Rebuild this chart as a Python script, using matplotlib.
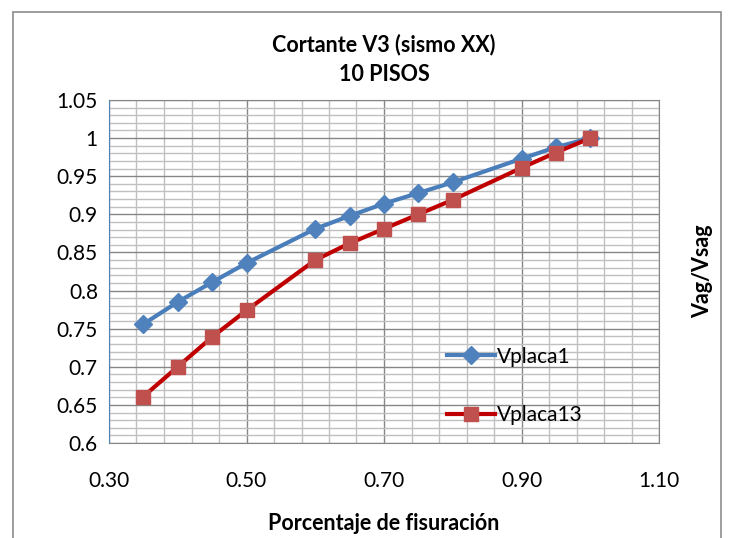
import matplotlib.pyplot as plt
from matplotlib.ticker import FixedLocator
from matplotlib.patches import Rectangle

plt.rcParams['font.family'] = ['Lato', 'DejaVu Sans']

# porcentaje de fisuracion
fis = [0.35, 0.40, 0.45, 0.50, 0.60, 0.65, 0.70, 0.75, 0.80, 0.90, 0.95, 1.00]
vplaca1 = [0.756, 0.785, 0.811, 0.836, 0.881, 0.898, 0.914, 0.928, 0.942, 0.973, 0.988, 1.000]
vplaca13 = [0.661, 0.700, 0.739, 0.774, 0.840, 0.862, 0.881, 0.900, 0.919, 0.961, 0.981, 1.000]

x_ticks = [0.30, 0.50, 0.70, 0.90, 1.10]
x_labels = ["0.30", "0.50", "0.70", "0.90", "1.10"]
y_ticks = [0.6, 0.65, 0.7, 0.75, 0.8, 0.85, 0.9, 0.95, 1.0, 1.05]
y_labels = ["0.6", "0.65", "0.7", "0.75", "0.8", "0.85", "0.9", "0.95", "1", "1.05"]

fig = plt.figure(figsize=(7.32, 5.38), dpi=100)
ax = fig.add_axes([109 / 732, 1 - 443 / 538, 550 / 732, 343 / 538])

# outer chart border
fig.patches.append(Rectangle((13 / 732, -0.01), 708 / 732, 1 - 12 / 538 + 0.01,
                             transform=fig.transFigure, fill=False,
                             edgecolor="#8c8c8c", linewidth=1.2))

ax.plot(fis, vplaca1, color="#4a7ebb", linewidth=3, marker="D", markersize=9,
        markerfacecolor="#4f81bd", markeredgecolor="#4f81bd", label="Vplaca1", zorder=3)
ax.plot(fis, vplaca13, color="#c00000", linewidth=3, marker="s", markersize=9.5,
        markerfacecolor="#c0504d", markeredgecolor="#c0504d", label="Vplaca13", zorder=3)

ax.set_xlim(0.30, 1.10)
ax.set_ylim(0.6, 1.05)
ax.set_xticks(x_ticks)
ax.set_xticklabels(x_labels)
ax.xaxis.set_minor_locator(FixedLocator([0.30 + 0.04 * i for i in range(21)]))
ax.set_yticks(y_ticks)
ax.set_yticklabels(y_labels)
ax.yaxis.set_minor_locator(FixedLocator([0.60 + 0.01 * i for i in range(46)]))

ax.grid(which="major", color="#868686", linewidth=1.0)
ax.grid(which="minor", color="#c0c0c0", linewidth=1.0)
ax.set_axisbelow(True)
ax.tick_params(which="both", length=0, labelsize=15, pad=8)
ax.tick_params(axis="x", pad=20)
for s in ["top", "right", "bottom"]:
    ax.spines[s].set_color("#868686")
ax.spines["left"].set_color("#4f81bd")

ax.set_title("Cortante V3 (sismo XX)\n10 PISOS", fontsize=15.5, fontweight="bold",
             linespacing=1.5, pad=14)
ax.set_xlabel("Porcentaje de fisuración", fontsize=15.5, fontweight="bold", labelpad=16)
ax.yaxis.set_label_position("right")
ax.set_ylabel("Vag/Vsag", fontsize=15.5, fontweight="bold", labelpad=24)

ax.legend(loc="upper left", bbox_to_anchor=(0.6, 0.305), frameon=False, fontsize=15,
          handlelength=2.3, handletextpad=0.1, labelspacing=1.85, borderaxespad=0)

fig.savefig("out.png", dpi=100)
